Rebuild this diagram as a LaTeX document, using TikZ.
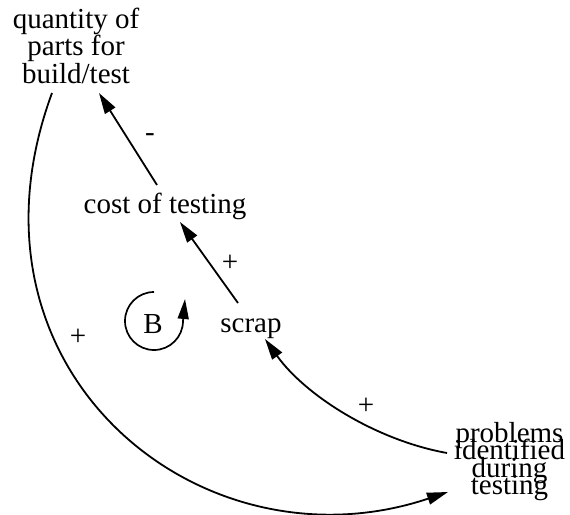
\documentclass[tikz,border=0pt]{standalone}
\usepackage{fontspec}
\setmainfont{Liberation Serif}
\usetikzlibrary{arrows.meta}
\newcommand{\tightlines}{\lineskiplimit=-100pt\relax\lineskip=0pt\relax}
\begin{document}
\begin{tikzpicture}[x=1pt,y=-1pt,
  lbl/.style={font=\fontsize{29}{25.5}\selectfont, inner sep=0pt},
  plbl/.style={font=\fontsize{29}{17.5}\selectfont\tightlines, inner sep=0pt},
  link/.style={line width=1.8pt, -{Triangle[length=21pt,width=12pt]}},
  loopline/.style={line width=1.7pt, -{Triangle[length=20pt,width=11pt]}},
  ]
\useasboundingbox (0,0) rectangle (570,514);
% nodes (base anchor = baseline of the last line)
\node[lbl, align=center, anchor=base] (Q) at (76,83) {quantity of\\parts for\\build/test};
\node[lbl, anchor=base] (C) at (165,213) {cost of testing};
\node[lbl, anchor=base] (S) at (251,332) {scrap};
\node[lbl, anchor=base] (B) at (153,333) {B};
\node[plbl, align=center, anchor=base] (P) at (509.5,494.5) {problems\\identified\\during\\testing};
% connector ends
\coordinate (c1) at (157,185);
\coordinate (q1) at (99,93);
\coordinate (s2) at (238,303);
\coordinate (c2) at (180,222);
\coordinate (p1) at (447,453);
\coordinate (s1) at (265,339);
\coordinate (q2) at (52,93);
\coordinate (p2) at (448,492);
\coordinate (bc) at (154,322);
% connectors
\draw[link] (c1) -- (q1);
\draw[link] (s2) -- (c2);
\draw[link] (p1) .. controls (375,440) and (305,395) .. (s1);
\draw[link] (q2) .. controls (-50,370) and (200,575) .. (p2);
% loop symbol
\draw[loopline] (bc) ++(0,-30) arc[start angle=-90,end angle=-360,radius=29] -- ++(2,-22);
% polarity labels
\node[lbl] (m1) at (150,138) {-};
\node[lbl] (pl1) at (230,263) {+};
\node[lbl] (pl2) at (366,406) {+};
\node[lbl] (pl3) at (78,337) {+};
\end{tikzpicture}
\end{document}
